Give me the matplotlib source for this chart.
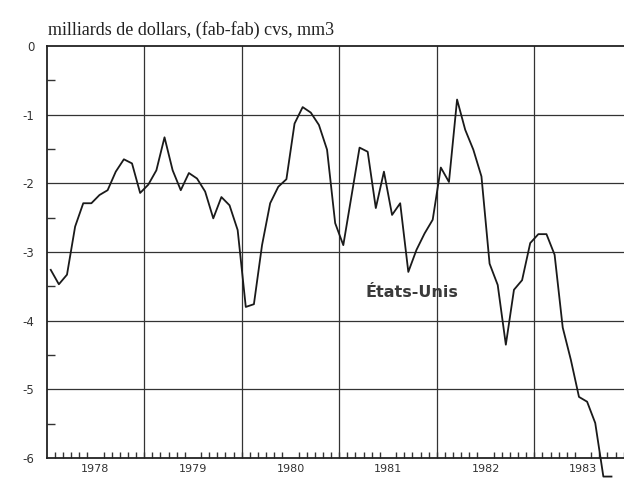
import numpy as np
import matplotlib.pyplot as plt
from matplotlib.ticker import FixedLocator, MultipleLocator

# solde commercial Etats-Unis, milliards de dollars, mensuel (mm3)
years = [1978, 1979, 1980, 1981, 1982, 1983]
values = [
    # 1978
    -3.26, -3.47, -3.33, -2.63, -2.29, -2.29, -2.17, -2.10, -1.83, -1.65, -1.71, -2.14,
    # 1979
    -2.02, -1.81, -1.33, -1.81, -2.10, -1.85, -1.93, -2.12, -2.51, -2.20, -2.32, -2.68,
    # 1980
    -3.80, -3.76, -2.90, -2.29, -2.05, -1.94, -1.13, -0.89, -0.97, -1.15, -1.51, -2.58,
    # 1981
    -2.90, -2.19, -1.48, -1.54, -2.36, -1.83, -2.46, -2.29, -3.29, -2.97, -2.73, -2.53,
    # 1982
    -1.77, -1.98, -0.78, -1.22, -1.51, -1.90, -3.17, -3.48, -4.35, -3.55, -3.41, -2.87,
    # 1983
    -2.74, -2.74, -3.04, -4.10, -4.57, -5.11, -5.18, -5.49, -6.27, -6.27,
]
yticks = [0, -1, -2, -3, -4, -5, -6]
title = "milliards de dollars, (fab-fab) cvs, mm3"
series_label = "États-Unis"

t = years[0] + (np.arange(len(values)) + 0.5) / 12

fig = plt.figure(figsize=(6.24, 4.78), dpi=100)
ax = fig.add_axes([0.0748, 0.0418, 0.9252, 0.862])

ax.plot(t, values, color="#1a1a1a", lw=1.3, clip_on=False, zorder=3)

ax.set_xlim(1978, 1983.92)
ax.set_ylim(-6, 0)

# gridlines
for y in yticks[1:-1]:
    ax.axhline(y, color="#333333", lw=0.9, zorder=1)
for yr in years[1:]:
    ax.axvline(yr, color="#333333", lw=0.9, zorder=1)

# axes
for s in ["left", "bottom", "top"]:
    ax.spines[s].set_linewidth(1.3)
    ax.spines[s].set_color("#222222")
ax.spines["right"].set_visible(False)

ax.set_yticks(yticks)
ax.set_yticklabels([str(v) for v in yticks])
ax.yaxis.set_minor_locator(MultipleLocator(0.5))
ax.tick_params(axis="y", which="major", length=0, pad=9, labelsize=8.5, labelcolor="#333333")
ax.tick_params(axis="y", which="minor", direction="in", length=6, width=1, color="#333333")

ax.xaxis.set_major_locator(FixedLocator([y + 0.5 for y in years]))
ax.set_xticklabels([str(y) for y in years])
ax.xaxis.set_minor_locator(FixedLocator(years[0] + np.arange(1, 72) / 12))
ax.tick_params(axis="x", which="major", length=0, pad=4, labelsize=8, labelcolor="#333333")
ax.tick_params(axis="x", which="minor", direction="in", length=4, width=1, color="#333333")

fig.text(0.077, 0.927, title, family="Liberation Serif", fontsize=13, color="#222222",
         ha="left", va="baseline")
ax.text(1981.27, -3.59, series_label, fontsize=11.5, fontweight="bold", family="DejaVu Sans",
        color="#3a3a3a", ha="left", va="center")

fig.savefig("out.png", dpi=100)
